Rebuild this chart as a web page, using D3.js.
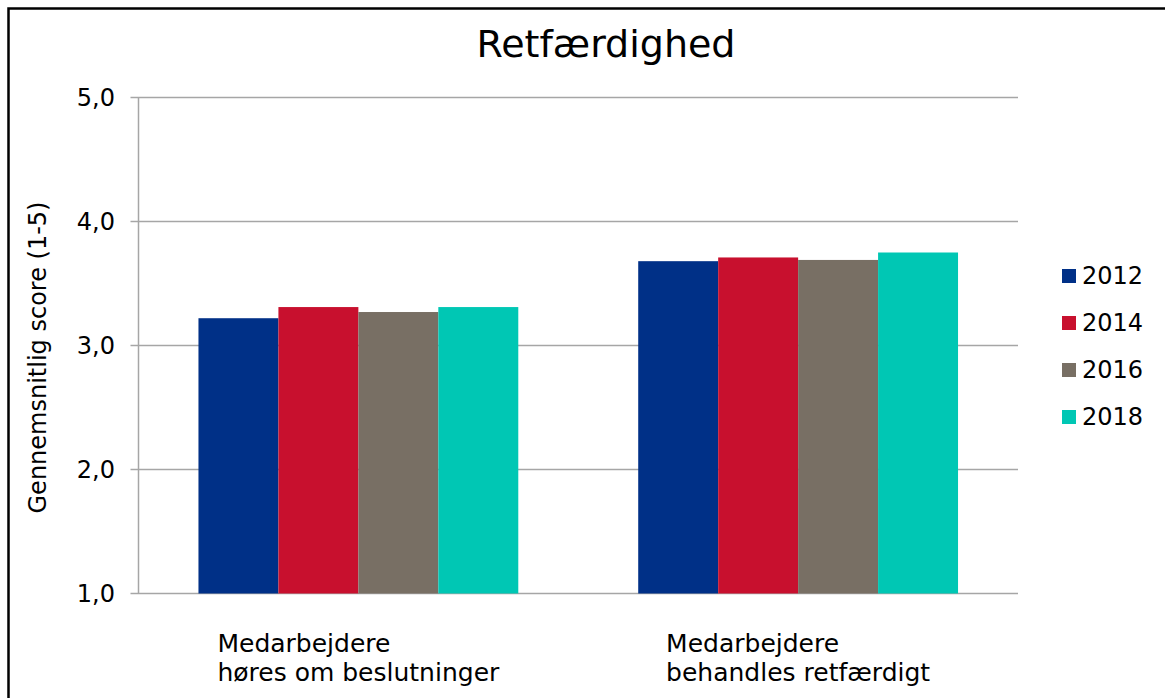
<!DOCTYPE html>
<html>
<head>
<meta charset="utf-8">
<script src="https://cdn.jsdelivr.net/npm/d3@7"></script>
<style>
  html, body { margin: 0; padding: 0; background: #fff; }
  svg { display: block; }
  text { font-family: "DejaVu Sans", Verdana, sans-serif; fill: #000; }
</style>
</head>
<body>
<svg id="chart" width="1165" height="698"></svg>
<script>
const title = "Retfærdighed";
const yAxisLabel = "Gennemsnitlig score (1-5)";
const categories = [
  ["Medarbejdere", "høres om beslutninger"],
  ["Medarbejdere", "behandles retfærdigt"]
];
const seriesNames = ["2012", "2014", "2016", "2018"];
const values2012 = [3.22, 3.68];
const values2014 = [3.31, 3.71];
const values2016 = [3.27, 3.69];
const values2018 = [3.31, 3.75];
const yTicks = [1, 2, 3, 4, 5];
const yTickLabels = ["1,0", "2,0", "3,0", "4,0", "5,0"];
const colors = ["#003087", "#C8102E", "#786F64", "#00C7B4"];

const seriesValues = [values2012, values2014, values2016, values2018];

const svg = d3.select("#chart");

// outer border
svg.append("rect")
  .attr("x", 8.5).attr("y", 8.5)
  .attr("width", 1180).attr("height", 720)
  .attr("fill", "#fff").attr("stroke", "#000").attr("stroke-width", 2.5);

const plot = { left: 138.5, right: 1018, top: 97.5, bottom: 593.5 };

const y = d3.scaleLinear().domain([1, 5]).range([plot.bottom, plot.top]);
const x0 = d3.scaleBand().domain(d3.range(categories.length)).range([plot.left, plot.right]);
const gap = x0.bandwidth() * (1.5 / 5.5);
const x1 = d3.scaleBand().domain(seriesNames).range([gap / 2, x0.bandwidth() - gap / 2]);

// gridlines
svg.append("g").selectAll("line").data(yTicks).join("line")
  .attr("x1", plot.left - 8).attr("x2", plot.right)
  .attr("y1", d => y(d)).attr("y2", d => y(d))
  .attr("stroke", "#A6A6A6").attr("stroke-width", 1.5);

// y axis line
svg.append("line")
  .attr("x1", plot.left).attr("x2", plot.left)
  .attr("y1", plot.top).attr("y2", plot.bottom)
  .attr("stroke", "#A6A6A6").attr("stroke-width", 1.5);

// y tick labels
svg.append("g").selectAll("text").data(yTicks).join("text")
  .attr("x", 115).attr("y", d => y(d))
  .attr("text-anchor", "end").attr("dominant-baseline", "central")
  .style("font-size", "24px")
  .text((d, i) => yTickLabels[i]);

// bars
const rows = [];
categories.forEach((c, ci) => {
  seriesNames.forEach((s, si) => rows.push({ ci, s, si, v: seriesValues[si][ci] }));
});
svg.append("g").selectAll("rect").data(rows).join("rect")
  .attr("x", d => x0(d.ci) + x1(d.s))
  .attr("width", x1.bandwidth())
  .attr("y", d => y(d.v))
  .attr("height", d => y(1) - y(d.v))
  .attr("fill", d => colors[d.si]);

// category labels (block centered, lines left-aligned)
categories.forEach((lines, ci) => {
  const g = svg.append("g");
  const texts = lines.map((l, li) => g.append("text")
    .attr("y", 652 + li * 29)
    .style("font-size", "25px")
    .text(l));
  const w = d3.max(texts, t => t.node().getComputedTextLength());
  const cx = x0(ci) + x0.bandwidth() / 2;
  texts.forEach(t => t.attr("x", cx - w / 2));
});

// title
svg.append("text")
  .attr("x", 606).attr("y", 57)
  .attr("text-anchor", "middle")
  .style("font-size", "38px")
  .text(title);

// y axis label
svg.append("text")
  .attr("transform", `translate(46, ${(plot.top + plot.bottom) / 2 + 12}) rotate(-90)`)
  .attr("text-anchor", "middle")
  .style("font-size", "24px")
  .text(yAxisLabel);

// legend
const legend = svg.append("g");
seriesNames.forEach((s, i) => {
  const cy = 276 + i * 47;
  legend.append("rect")
    .attr("x", 1062).attr("y", cy - 7).attr("width", 14).attr("height", 14)
    .attr("fill", colors[i]);
  legend.append("text")
    .attr("x", 1082).attr("y", cy)
    .attr("dominant-baseline", "central")
    .style("font-size", "24px")
    .text(s);
});
</script>
</body>
</html>
